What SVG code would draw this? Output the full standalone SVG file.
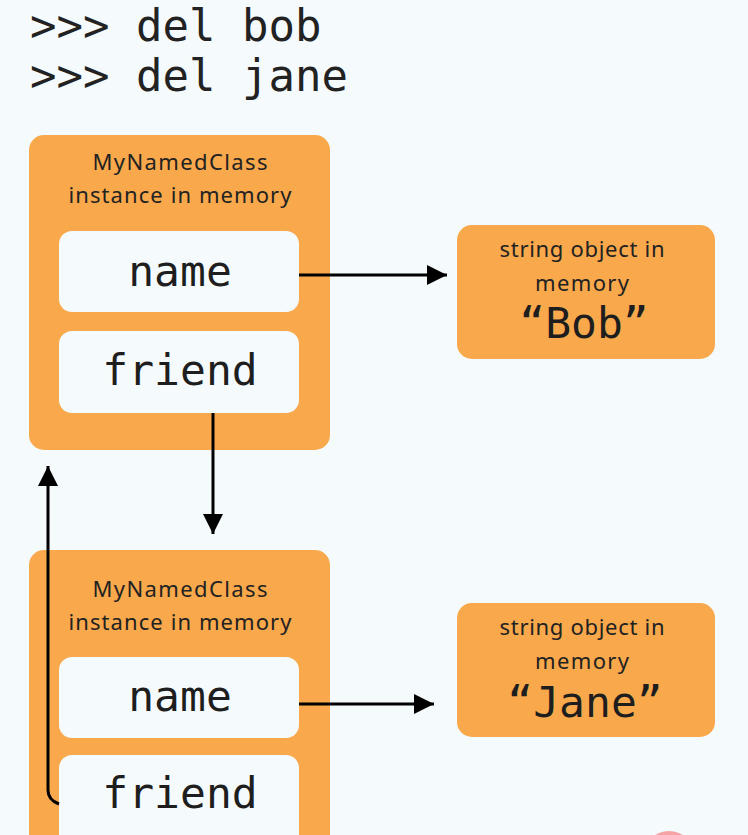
<svg xmlns="http://www.w3.org/2000/svg" width="748" height="835" viewBox="0 0 748 835">
<defs>
<style>
.bg{fill:#f5fafd}
.box{fill:#f9a84b}
.slot{fill:#f5fafd}
.lbl{font-family:"Noto Sans","Open Sans",sans-serif;font-size:22px;fill:#222;text-anchor:middle}
.mono{font-family:"DejaVu Sans Mono","Liberation Mono",monospace;font-size:43px;fill:#1e1e1e;text-anchor:middle}
.code{font-family:"DejaVu Sans Mono","Liberation Mono",monospace;font-size:44px;fill:#222}
.conn{fill:none;stroke:#000;stroke-width:3}
</style>
<marker id="ah" viewBox="0 0 20 20" refX="20" refY="10" markerWidth="20" markerHeight="20" markerUnits="userSpaceOnUse" orient="auto">
<path d="M0,0 L20,10 L0,20 Z" fill="#000"/>
</marker>
</defs>
<rect class="bg" x="0" y="0" width="748" height="835"/>
<g id="code">
<text class="code" x="30" y="41">&gt;&gt;&gt; del bob</text>
<text class="code" x="30" y="91">&gt;&gt;&gt; del jane</text>
</g>
<g id="bob-instance">
<rect class="box" x="29" y="135" width="301" height="315" rx="15"/>
<text class="lbl" x="180" y="170" textLength="175">MyNamedClass</text>
<text class="lbl" x="180" y="203" textLength="223">instance in memory</text>
<rect class="slot" x="59" y="231" width="240" height="81" rx="13"/>
<text class="mono" x="180" y="286">name</text>
<rect class="slot" x="59" y="331" width="240" height="82" rx="13"/>
<text class="mono" x="180" y="385">friend</text>
</g>
<g id="bob-string">
<rect class="box" x="457" y="225" width="258" height="134" rx="15"/>
<text class="lbl" x="582" y="257" textLength="165">string object in</text>
<text class="lbl" x="582" y="291" textLength="94">memory</text>
<text class="mono" x="584" y="338">“Bob”</text>
</g>
<g id="jane-instance">
<rect class="box" x="29" y="550" width="301" height="300" rx="15"/>
<text class="lbl" x="180" y="597" textLength="175">MyNamedClass</text>
<text class="lbl" x="180" y="630" textLength="223">instance in memory</text>
<rect class="slot" x="59" y="657" width="240" height="81" rx="13"/>
<text class="mono" x="180" y="711">name</text>
<rect class="slot" x="59" y="755" width="240" height="100" rx="13"/>
<text class="mono" x="180" y="808">friend</text>
</g>
<g id="jane-string">
<rect class="box" x="457" y="603" width="258" height="134" rx="15"/>
<text class="lbl" x="582" y="635" textLength="165">string object in</text>
<text class="lbl" x="582" y="669" textLength="94">memory</text>
<text class="mono" x="585" y="717">“Jane”</text>
</g>
<g id="connectors">
<path class="conn" d="M299,275 H447" marker-end="url(#ah)"/>
<path class="conn" d="M213,413 V534" marker-end="url(#ah)"/>
<path class="conn" d="M299,704 H434" marker-end="url(#ah)"/>
<path class="conn" d="M59,804 Q48,800 48,790 V466" marker-end="url(#ah)"/>
</g>
<circle cx="669" cy="857" r="26" fill="#f6a3a6"/>
</svg>
